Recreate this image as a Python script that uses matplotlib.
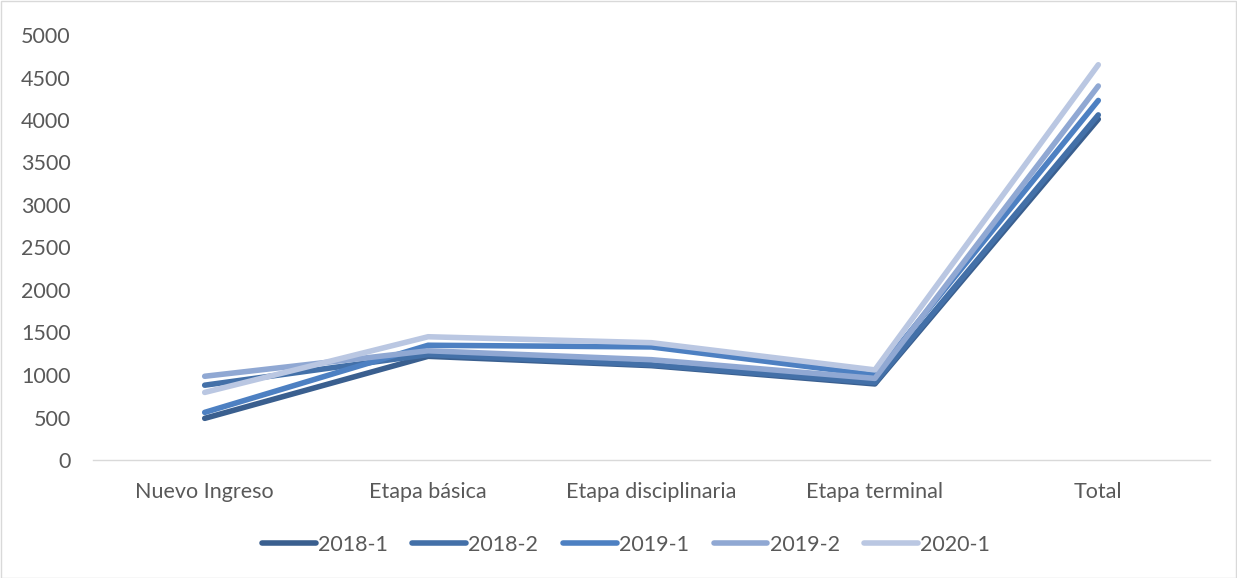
import matplotlib
matplotlib.use("Agg")
import matplotlib.pyplot as plt

categories = ["Nuevo Ingreso", "Etapa básica", "Etapa disciplinaria", "Etapa terminal", "Total"]
series_names = ["2018-1", "2018-2", "2019-1", "2019-2", "2020-1"]
s2018_1 = [490, 1220, 1110, 895, 4010]
s2018_2 = [880, 1240, 1120, 910, 4060]
s2019_1 = [560, 1350, 1330, 1000, 4230]
s2019_2 = [985, 1285, 1180, 960, 4400]
s2020_1 = [795, 1450, 1380, 1060, 4650]
yticks = [0, 500, 1000, 1500, 2000, 2500, 3000, 3500, 4000, 4500, 5000]

colors = ["#3A5F8F", "#4370A8", "#4D80C2", "#90A8D3", "#BAC7E2"]
data = [s2018_1, s2018_2, s2019_1, s2019_2, s2020_1]

plt.rcParams['font.family'] = ['Lato', 'DejaVu Sans']
fig = plt.figure(figsize=(12.37, 5.78), dpi=100)
ax = fig.add_axes([93/1237, 1 - 460/578, (1210-93)/1237, (460-35)/578])

x = list(range(len(categories)))
for name, vals, c in zip(series_names, data, colors):
    ax.plot(x, vals, color=c, lw=4.0, solid_capstyle='round', solid_joinstyle='round', label=name)

ax.set_xlim(-0.5, len(categories) - 0.5)
ax.set_ylim(0, 5000)
ax.set_yticks(yticks)
ax.set_yticklabels([str(v) for v in yticks])
ax.set_xticks(x)
ax.set_xticklabels(categories)
for s in ['top', 'right', 'left']:
    ax.spines[s].set_visible(False)
ax.spines['bottom'].set_color('#D9D9D9')
ax.spines['bottom'].set_linewidth(1.0)
ax.tick_params(axis='both', length=0, labelsize=15.5, colors='#595959')
ax.tick_params(axis='y', pad=16)
ax.tick_params(axis='x', pad=16)

leg = fig.legend(loc='center', bbox_to_anchor=(626/1237, 1 - 545/578), ncol=5, frameon=False,
                 fontsize=15.5, handlelength=2.5, columnspacing=1.15, handletextpad=0.1)
for t in leg.get_texts():
    t.set_color('#595959')

fig.patches.append(plt.Rectangle((0.5/1237, 0.5/578), 1 - 1.5/1237, 1 - 1.5/578, transform=fig.transFigure,
                                 fill=False, edgecolor='#D9D9D9', lw=1))
fig.savefig("out.png", dpi=100)
